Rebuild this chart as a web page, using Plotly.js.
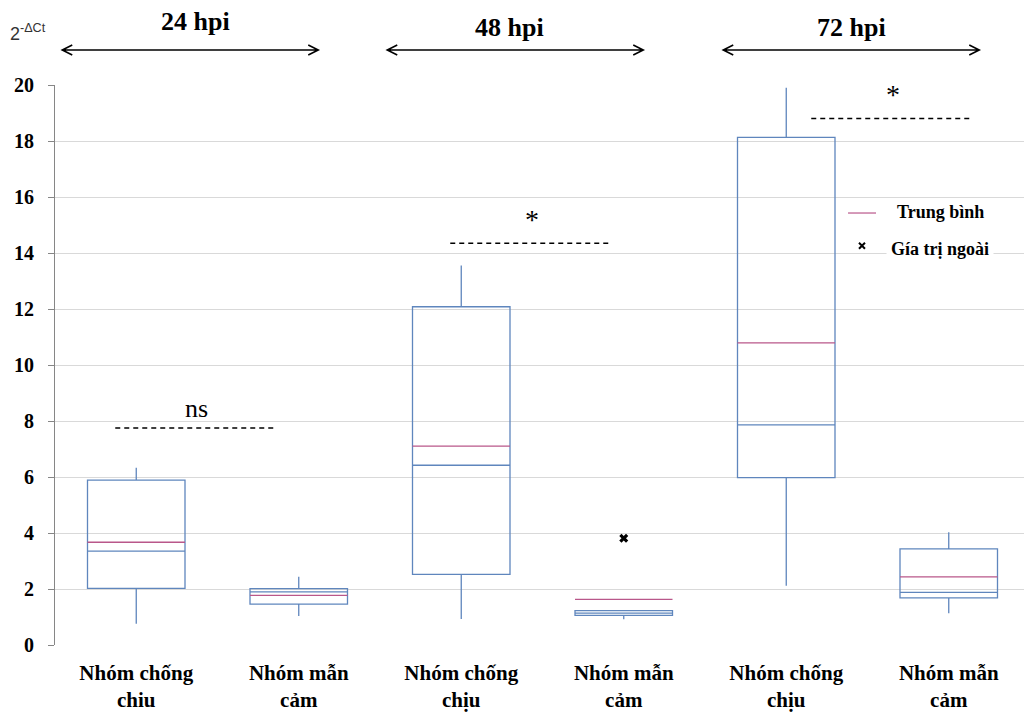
<!DOCTYPE html>
<html>
<head>
<meta charset="utf-8">
<script src="https://cdn.plot.ly/plotly-3.0.1.min.js"></script>
<style>html,body{margin:0;padding:0;background:#fff;}#chart{width:1024px;height:716px;}</style>
</head>
<body>
<div id="chart"></div>
<script>
// ---- data ----
const timepoints = ['24 hpi', '48 hpi', '72 hpi'];
const categoryLabels = ['Nhóm chống<br>chiu', 'Nhóm mẫn<br>cảm', 'Nhóm chống<br>chịu', 'Nhóm mẫn<br>cảm', 'Nhóm chống<br>chịu', 'Nhóm mẫn<br>cảm'];
const positions = [0, 1, 2, 3, 4, 5];
const lowerWhisker = [0.76, 1.04, 0.93, 0.92, 2.12, 1.13];
const q1 = [2.02, 1.46, 2.52, 1.06, 5.98, 1.68];
const medianVals = [3.35, 1.90, 6.42, 1.14, 7.86, 1.88];
const q3 = [5.89, 2.01, 12.08, 1.23, 18.13, 3.43];
const upperWhisker = [6.33, 2.44, 13.55, 1.23, 19.90, 4.03];
const meanVals = [3.67, 1.77, 7.10, 1.63, 10.79, 2.43];
const outlierPos = [3];
const outlierVals = [3.81];
const sigLabels = ['ns', '*', '*'];
const sigLevels = [7.75, 14.35, 18.8];
const yTickVals = [0, 2, 4, 6, 8, 10, 12, 14, 16, 18, 20];

// ---- styles / layout helpers ----
const BOX_W = 0.6;
const boxColor = '#5f86bd';
const meanColor = '#b9578a';
const serif = '"Liberation Serif", "Times New Roman", serif';
const PX_PER_UNIT = 162.5;
const px = v => v / PX_PER_UNIT;           // pixel offset -> data units
const sigShiftPx = [-21, -11, 25];         // horizontal shift of significance marks
const arrowShiftPx = [-74, -74, -63];      // arrow start relative to first box of pair
const ARROW_LEN = 256;
const headerShiftPx = [-22, -33, -16];
const headerY = [1.1125, 1.1018, 1.1018];

// mean segments computed from box positions/width
const mx = [], my = [];
positions.forEach((p, i) => { mx.push(p - BOX_W / 2, p + BOX_W / 2, null); my.push(meanVals[i], meanVals[i], null); });

const traces = [
  {
    type: 'box', x: positions, q1: q1, median: medianVals, q3: q3,
    lowerfence: lowerWhisker, upperfence: upperWhisker,
    width: BOX_W, whiskerwidth: 0, boxpoints: false,
    line: {color: boxColor, width: 1.3}, fillcolor: 'rgba(255,255,255,0)',
    showlegend: false, hoverinfo: 'skip'
  },
  {
    type: 'scatter', mode: 'lines', x: mx, y: my, connectgaps: false,
    line: {color: meanColor, width: 1.3}, showlegend: false, hoverinfo: 'skip'
  },
  {
    type: 'scatter', mode: 'markers', x: outlierPos, y: outlierVals,
    marker: {symbol: 'x', size: 8, color: '#000'}, showlegend: false, hoverinfo: 'skip'
  }
];

const shapes = [];
const annotations = [];

sigLevels.forEach((lv, i) => {
  const a = positions[2 * i], b = positions[2 * i + 1];
  const s = px(sigShiftPx[i]);
  shapes.push({type: 'line', xref: 'x', yref: 'y', x0: a + s, x1: b + s - px(2), y0: lv, y1: lv,
    line: {color: '#000', width: 1.5, dash: '5px,4px'}});
  const isNs = sigLabels[i] === 'ns';
  annotations.push({xref: 'x', yref: 'y', x: (a + b) / 2 + s, y: lv, yshift: isNs ? 20 : 24,
    text: sigLabels[i], showarrow: false,
    font: {family: serif, size: isNs ? 26 : 28, color: '#000'}});
});

timepoints.forEach((t, i) => {
  const a = positions[2 * i], b = positions[2 * i + 1];
  shapes.push({type: 'path', xref: 'x', yref: 'paper', xsizemode: 'pixel', ysizemode: 'pixel',
    xanchor: a + px(arrowShiftPx[i]), yanchor: 1.0625,
    path: 'M0,0H' + ARROW_LEN + ' M10,5L0,0L10,-5 M' + (ARROW_LEN - 10) + ',5L' + ARROW_LEN + ',0L' + (ARROW_LEN - 10) + ',-5',
    line: {color: '#000', width: 1.6}});
  annotations.push({xref: 'x', yref: 'paper', x: (a + b) / 2 + px(headerShiftPx[i]), y: headerY[i], yanchor: 'middle',
    text: '<b>' + t + '</b>', showarrow: false, font: {family: serif, size: 26, color: '#000'}});
});

// y-axis label
annotations.push({xref: 'paper', yref: 'paper', x: -0.049, y: 1.094, xanchor: 'left', yanchor: 'middle',
  text: '2<sup>-ΔCt</sup>', showarrow: false, font: {family: '"Liberation Sans", Arial, sans-serif', size: 18, color: '#333'}});

// manual legend
shapes.push({type: 'line', xref: 'paper', yref: 'paper', x0: 0.8184, x1: 0.8473, y0: 0.7714, y1: 0.7714,
  line: {color: meanColor, width: 1.2}});
annotations.push({xref: 'paper', yref: 'paper', x: 0.8669, y: 0.7735, xanchor: 'left', yanchor: 'middle',
  text: '<b>Trung bình</b>', showarrow: false, font: {family: serif, size: 18, color: '#000'}});
annotations.push({xref: 'paper', yref: 'paper', x: 0.858, y: 0.7070, xanchor: 'left', yanchor: 'middle',
  text: '<b>Gía trị ngoài</b>', showarrow: false, bgcolor: '#fff', borderpad: 4,
  font: {family: serif, size: 18, color: '#000'}});
shapes.push({type: 'path', xref: 'paper', yref: 'paper', xsizemode: 'pixel', ysizemode: 'pixel',
  xanchor: 0.8328, yanchor: 0.713, path: 'M-3,-3L3,3M-3,3L3,-3', line: {color: '#000', width: 2}});

const layout = {
  width: 1024, height: 716,
  margin: {l: 55, r: 0, t: 85, b: 71},
  paper_bgcolor: '#fff', plot_bgcolor: '#fff',
  showlegend: false,
  xaxis: {
    range: [-0.5, -0.5 + 969 / PX_PER_UNIT], tickvals: positions, ticktext: categoryLabels,
    showgrid: false, zeroline: false, showline: false, ticks: '',
    tickfont: {family: serif, size: 21, color: '#000', weight: 'bold'}, ticklabelstandoff: 13
  },
  yaxis: {
    range: [0, 20], tickvals: yTickVals, showgrid: true, gridcolor: '#d9d9d9', gridwidth: 1,
    zeroline: false, showline: true, linecolor: '#868686', linewidth: 1,
    ticks: 'outside', ticklen: 6, tickcolor: '#868686',
    tickfont: {family: serif, size: 20, color: '#000', weight: 'bold'}, ticklabelstandoff: 10
  },
  shapes: shapes,
  annotations: annotations
};

Plotly.newPlot('chart', traces, layout, {staticPlot: true, displayModeBar: false});
</script>
</body>
</html>
